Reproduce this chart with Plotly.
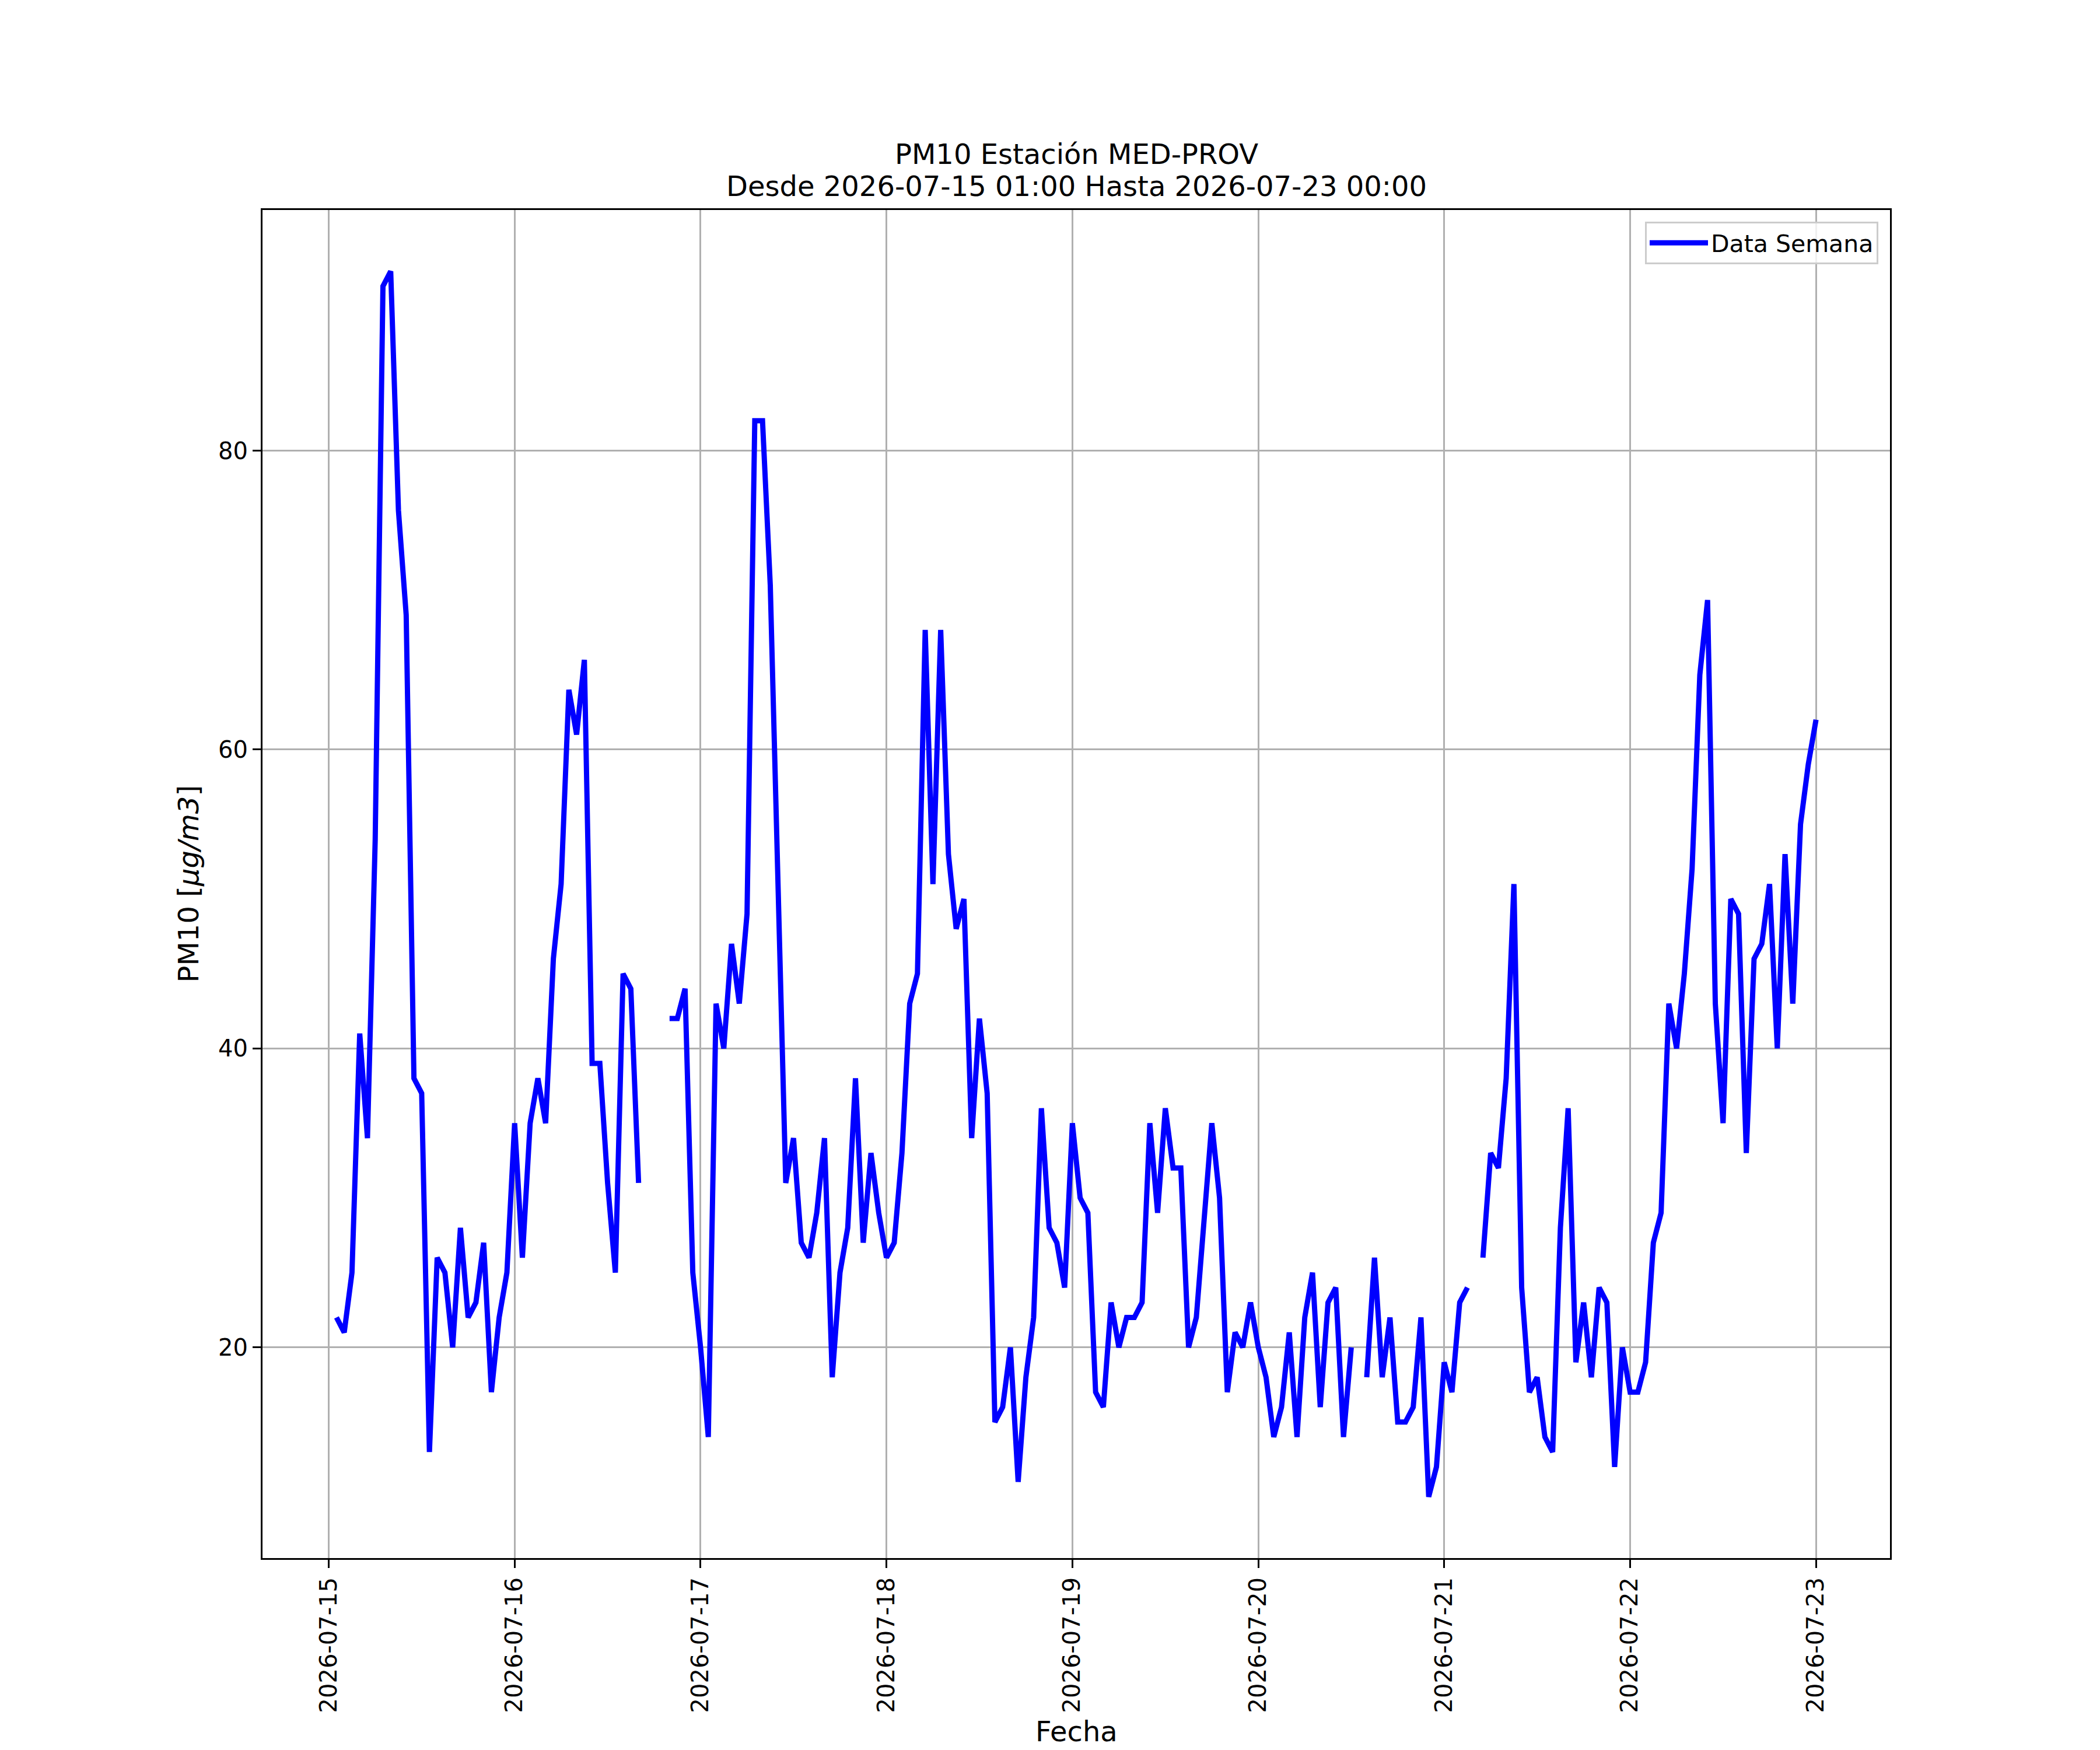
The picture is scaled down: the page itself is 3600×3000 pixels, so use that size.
import pandas as pd
import plotly.graph_objects as go

# Hourly PM10 values, 2026-07-15 01:00 .. 2026-07-23 00:00 (None = missing)
start_time = "2026-07-15 01:00"
pm10 = [
    22, 21, 25, 41, 34, 54, 91, 92, 76, 69, 38, 37, 13, 26, 25, 20, 28, 22, 23, 27, 17, 22, 25, 35,
    26, 35, 38, 35, 46, 51, 64, 61, 66, 39, 39, 31, 25, 45, 44, 31, None, None, None, 42, 42, 44, 25, 20,
    14, 43, 40, 47, 43, 49, 82, 82, 71, 51, 31, 34, 27, 26, 29, 34, 18, 25, 28, 38, 27, 33, 29, 26,
    27, 33, 43, 45, 68, 51, 68, 53, 48, 50, 34, 42, 37, 15, 16, 20, 11, 18, 22, 36, 28, 27, 24, 35,
    30, 29, 17, 16, 23, 20, 22, 22, 23, 35, 29, 36, 32, 32, 20, 22, 29, 35, 30, 17, 21, 20, 23, 20,
    18, 14, 16, 21, 14, 22, 25, 16, 23, 24, 14, 20, None, 18, 26, 18, 22, 15, 15, 16, 22, 10, 12, 19,
    17, 23, 24, None, 26, 33, 32, 38, 51, 24, 17, 18, 14, 13, 28, 36, 19, 23, 18, 24, 23, 12, 20, 17,
    17, 19, 27, 29, 43, 40, 45, 52, 65, 70, 43, 35, 50, 49, 33, 46, 47, 51, 40, 53, 43, 55, 59, 62,
]
tick_days = ["2026-07-15", "2026-07-16", "2026-07-17", "2026-07-18", "2026-07-19",
             "2026-07-20", "2026-07-21", "2026-07-22", "2026-07-23"]
y_ticks = [20, 40, 60, 80]
series_name = "Data Semana"
title_1 = "PM10 Estación MED-PROV"
title_2 = "Desde 2026-07-15 01:00 Hasta 2026-07-23 00:00"

times = pd.date_range(start=start_time, periods=len(pm10), freq="h")

FONT = "DejaVu Sans"
OFF = 8  # default page body margin
W, H = 3600 - OFF, 3000 - OFF
# plot area in page pixels
PL, PR, PT, PB = 450, 3240, 360, 2671
L, R, T, B = PL - OFF, PR - OFF, PT - OFF, PB - OFF
pw, ph = PR - PL, PB - PT

fig = go.Figure()
fig.add_trace(go.Scatter(
    x=times, y=pm10, mode="lines", name=series_name,
    line=dict(color="#0000ff", width=9), connectgaps=False,
))

axis_common = dict(
    showline=True, mirror=True, linecolor="black", linewidth=3,
    showgrid=True, gridcolor="#b0b0b0", gridwidth=3,
    ticks="outside", ticklen=14, tickwidth=3, tickcolor="black",
    tickfont=dict(family=FONT, size=40, color="black"),
    zeroline=False,
)

fig.update_layout(
    width=W, height=H,
    margin=dict(l=L, r=W - R, t=T, b=H - B, pad=0),
    paper_bgcolor="white", plot_bgcolor="white",
    font=dict(family=FONT, color="black"),
    showlegend=True,
    legend=dict(
        x=(3220 - PL) / pw, y=(PB - 380) / ph,
        xanchor="right", yanchor="top",
        bordercolor="#cccccc", borderwidth=3,
        bgcolor="rgba(255,255,255,0.8)",
        font=dict(family=FONT, size=41, color="black"),
        itemwidth=100,
    ),
    xaxis=dict(
        type="date",
        range=["2026-07-14 15:27", "2026-07-23 09:33"],
        tickvals=tick_days, ticktext=tick_days, tickangle=-90,
        **axis_common,
    ),
    yaxis=dict(
        range=[5.9, 96.1], tickvals=y_ticks,
        ticktext=[str(v) for v in y_ticks],
        **axis_common,
    ),
)

fig.add_annotation(text=title_1, xref="paper", yref="paper", x=0.5,
                   y=(PB - 264) / ph, xanchor="center", yanchor="middle",
                   showarrow=False, font=dict(family=FONT, size=48, color="black"))
fig.add_annotation(text=title_2, xref="paper", yref="paper", x=0.5,
                   y=(PB - 319) / ph, xanchor="center", yanchor="middle",
                   showarrow=False, font=dict(family=FONT, size=48, color="black"))
fig.add_annotation(text="Fecha", xref="paper", yref="paper", x=0.5,
                   y=(PB - 2997) / ph, xanchor="center", yanchor="bottom",
                   borderpad=0,
                   showarrow=False, font=dict(family=FONT, size=48, color="black"))
fig.add_annotation(text="PM10 [<i>μg/m3</i>]", xref="paper", yref="paper",
                   x=(322 - PL) / pw, y=0.5, xanchor="center", yanchor="middle",
                   textangle=-90, showarrow=False,
                   font=dict(family=FONT, size=48, color="black"))

fig.write_html("out.html")
